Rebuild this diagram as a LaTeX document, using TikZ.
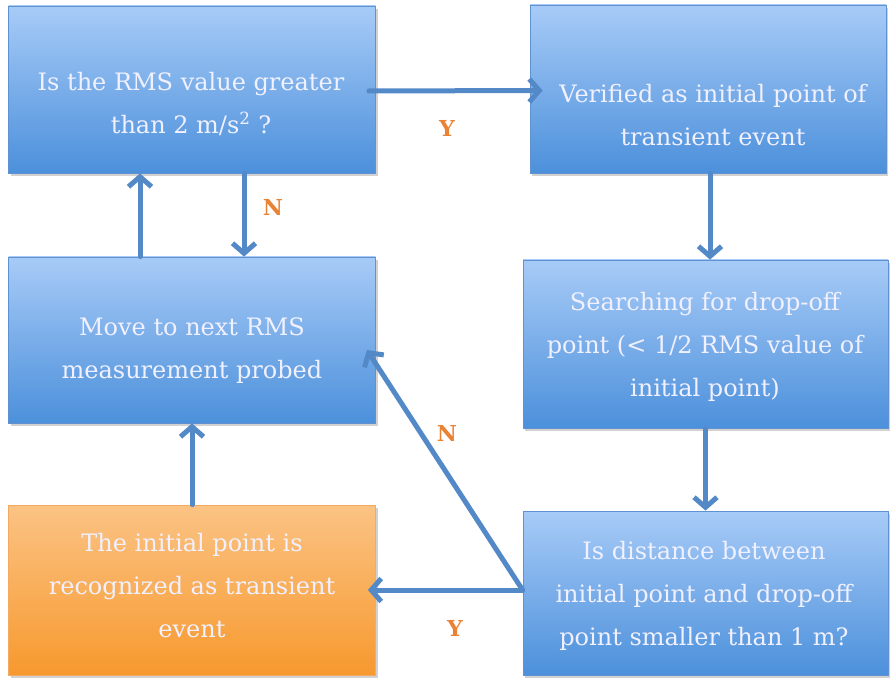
\documentclass[tikz,border=0pt]{standalone}
\usepackage{fontspec}
\setmainfont{DejaVu Serif}
\usepackage{xcolor}
\usepackage{tikz}
\usetikzlibrary{arrows.meta,shadows}
\definecolor{btop}{RGB}{167,203,247}
\definecolor{bbot}{RGB}{76,144,219}
\definecolor{bedge}{RGB}{96,146,210}
\definecolor{otop}{RGB}{251,195,132}
\definecolor{obot}{RGB}{247,153,46}
\definecolor{oedge}{RGB}{245,170,100}
\definecolor{flowc}{RGB}{84,137,200}
\definecolor{lblc}{RGB}{234,130,52}
\tikzset{
  bx/.style={rectangle, draw=bedge, line width=0.8pt, top color=btop, bottom color=bbot,
    drop shadow={shadow xshift=2pt, shadow yshift=-3pt, opacity=0.3, fill=black!60}},
  bxo/.style={bx, draw=oedge, top color=otop, bottom color=obot},
  tx/.style={align=center, text=white!94!blue, font=\fontsize{24}{43}\selectfont},
  flow/.style={-{Straight Barb[length=10pt,width=23pt]}, flowc, line width=5pt, line cap=round},
  yn/.style={text=lblc, font=\fontsize{22}{22}\selectfont\bfseries},
  chart/.style={x=1pt, y=-1pt}
}
\begin{document}
\begin{tikzpicture}[chart]
  \useasboundingbox (0,0) rectangle (895,679);
  \node[bx, minimum width=367pt, minimum height=167pt] (rms) at (192,89.5) {};
  \node[bx, minimum width=356pt, minimum height=168pt] (ver) at (708,89) {};
  \node[bx, minimum width=367pt, minimum height=166pt] (nxt) at (192,340) {};
  \node[bx, minimum width=365pt, minimum height=168pt] (srch) at (705.5,344) {};
  \node[bxo, minimum width=367pt, minimum height=170pt] (evt) at (192,590) {};
  \node[bx, minimum width=365pt, minimum height=164pt] (dist) at (705.5,593) {};

  \node[tx] (rmst) at (191,104) {Is the RMS value greater\\than 2 m/s\textsuperscript{2} ?};
  \node[tx] (vert) at (713,115) {Verified as initial point of\\transient event};
  \node[tx] (nxtt) at (192,351) {Move to next RMS\\measurement probed};
  \node[tx] (srcht) at (705,347) {Searching for drop-off\\point (< 1/2 RMS value of\\initial point)};
  \node[tx] (evtt) at (192,586) {The initial point is\\recognized as transient\\event};
  \node[tx] (distt) at (704,596) {Is distance between\\initial point and drop-off\\point smaller than 1 m?};

  \draw[flow] ([shift={(-7,1.5)}]rms.east) -- ([shift={(13,1.5)}]ver.west);
  \draw[flow] ([xshift=52pt]rms.south) -- ([xshift=52pt]nxt.north);
  \draw[flow] ([xshift=-52pt]nxt.north) -- ([xshift=-52pt]rms.south);
  \draw[flow] (evt.north) -- (nxt.south);
  \draw[flow] ([xshift=2pt]ver.south) -- ([xshift=2pt]ver.south |- srch.north);
  \draw[flow] (srch.south) -- (dist.north);
  \draw[flow] ([yshift=3pt]dist.west) -- ([shift={(-8,0)}]evt.east);
  \draw[flow] ([yshift=3pt]dist.west) -- ([shift={(-9,10)}]nxt.east);

  \node[yn] (y1) at (447,128) {Y};
  \node[yn] (n1) at (273,207) {N};
  \node[yn] (n2) at (447,433) {N};
  \node[yn] (y2) at (455,628) {Y};
\end{tikzpicture}
\end{document}
